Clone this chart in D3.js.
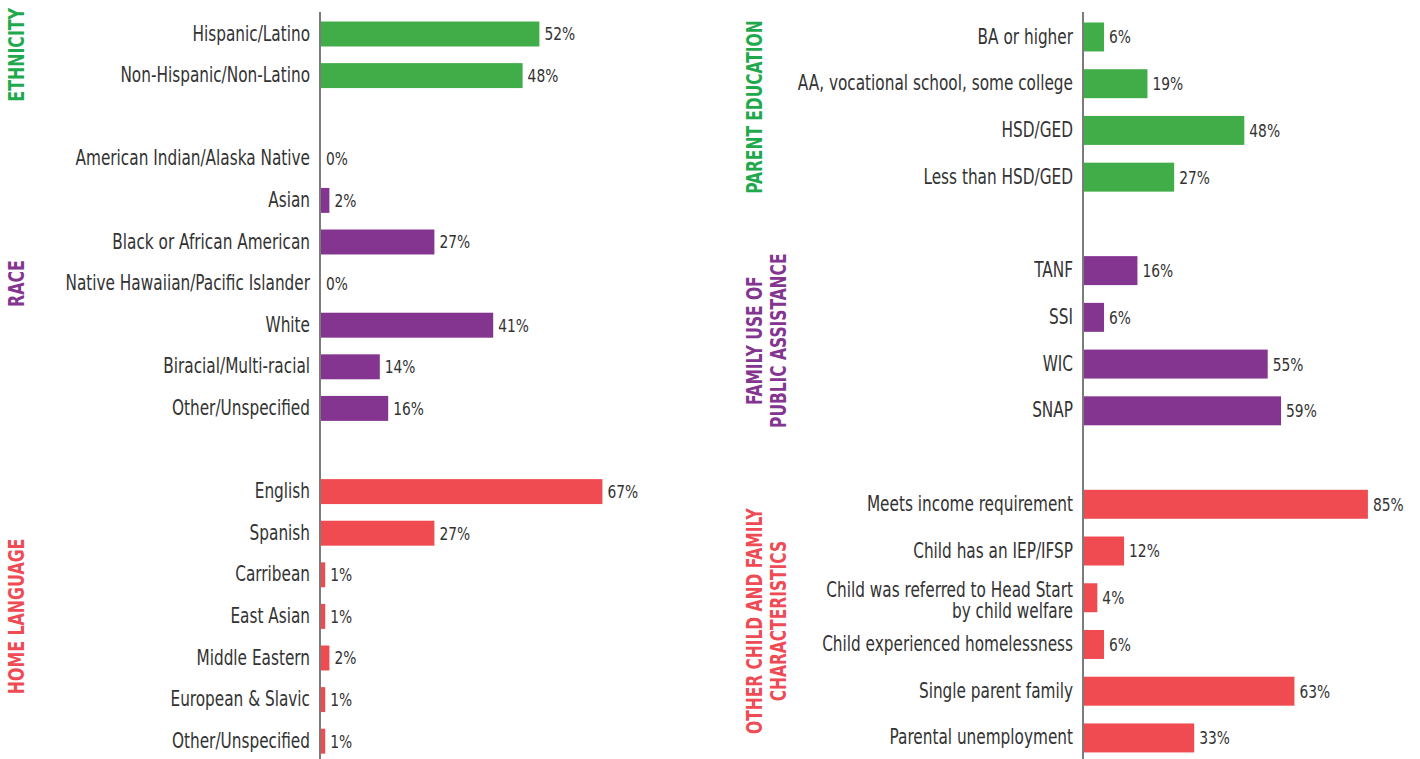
<!DOCTYPE html>
<html>
<head>
<meta charset="utf-8">
<script src="https://cdn.jsdelivr.net/npm/d3@7"></script>
<style>
  html, body { margin: 0; padding: 0; background: #fff; }
  svg { display: block; }
  .lbl { font-family: "DejaVu Sans Condensed", "DejaVu Sans", sans-serif; fill: #333; }
  .ttl { font-family: "DejaVu Sans Condensed", "DejaVu Sans", sans-serif; font-weight: bold; }
</style>
</head>
<body>
<svg id="chart" width="1420" height="759"></svg>
<script>
// left panel
var ethnicityLabels = ['Hispanic/Latino', 'Non-Hispanic/Non-Latino'];
var ethnicityValues = [52, 48];
var raceLabels = ['American Indian/Alaska Native', 'Asian', 'Black or African American',
    'Native Hawaiian/Pacific Islander', 'White', 'Biracial/Multi-racial', 'Other/Unspecified'];
var raceValues = [0, 2, 27, 0, 41, 14, 16];
var languageLabels = ['English', 'Spanish', 'Carribean', 'East Asian', 'Middle Eastern',
    'European & Slavic', 'Other/Unspecified'];
var languageValues = [67, 27, 1, 1, 2, 1, 1];

// right panel
var educationLabels = ['BA or higher', 'AA, vocational school, some college', 'HSD/GED', 'Less than HSD/GED'];
var educationValues = [6, 19, 48, 27];
var assistanceLabels = ['TANF', 'SSI', 'WIC', 'SNAP'];
var assistanceValues = [16, 6, 55, 59];
var otherLabels = ['Meets income requirement', 'Child has an IEP/IFSP',
    'Child was referred to Head Start\nby child welfare', 'Child experienced homelessness',
    'Single parent family', 'Parental unemployment'];
var otherValues = [85, 12, 4, 6, 63, 33];

var groupTitles = ['ETHNICITY', 'RACE', 'HOME LANGUAGE',
    'PARENT EDUCATION', 'FAMILY USE OF\nPUBLIC ASSISTANCE', 'OTHER CHILD AND FAMILY\nCHARACTERISTICS'];

var colors = { green: '#41ad49', purple: '#84358f', red: '#ef4b51' };
var titleColors = { green: '#1fa94d', purple: '#84358f', red: '#ef4b55' };

// the only condensed face here is wider than the original, squeeze it a bit
var SX = 0.83;

var svg = d3.select('#chart');

function buildRows(groups) {
    var rows = [];
    groups.forEach(function(g, gi) {
        if (gi > 0) {
            rows.push({ key: 'gap' + gi, gap: true });
        }
        g.labels.forEach(function(label, i) {
            rows.push({ key: gi + ':' + label, label: label, value: g.values[i], color: g.color, group: gi });
        });
    });
    return rows;
}

function drawPanel(opts) {
    var rows = buildRows(opts.groups);
    var panel = svg.append('g').attr('transform', 'translate(' + opts.axisX + ',0)');

    var y = d3.scaleBand()
        .domain(rows.map(function(r) { return r.key; }))
        .range(opts.yRange)
        .paddingInner(opts.padding)
        .paddingOuter(opts.padding / 2);

    var x = d3.scaleLinear().domain([0, 100]).range([0, opts.width]);

    var labelOf = {};
    rows.forEach(function(r) { labelOf[r.key] = r.gap ? '' : r.label; });

    var axis = panel.append('g')
        .call(d3.axisLeft(y).tickSize(0).tickSizeOuter(0).tickPadding(10)
            .tickFormat(function(k) { return labelOf[k]; }));

    axis.select('.domain')
        .attr('stroke', '#444')
        .attr('stroke-width', 1.4)
        .attr('d', 'M0,12V759');

    axis.selectAll('.tick text')
        .attr('class', 'lbl')
        .attr('font-size', 20.5)
        .attr('x', -10 / SX)
        .attr('transform', 'scale(' + SX + ',1)')
        .each(function(k) {
            var lines = labelOf[k].split('\n');
            if (lines.length > 1) {
                var t = d3.select(this).text('').attr('dy', null);
                lines.forEach(function(line, i) {
                    t.append('tspan')
                        .attr('x', -10 / SX)
                        .attr('dy', i === 0 ? '-0.05em' : '1.03em')
                        .text(line);
                });
            }
        });

    var data = rows.filter(function(r) { return !r.gap; });

    panel.selectAll('rect.bar')
        .data(data)
        .enter().append('rect')
        .attr('class', 'bar')
        .attr('x', 1)
        .attr('y', function(d) { return y(d.key); })
        .attr('width', function(d) { return x(d.value); })
        .attr('height', y.bandwidth())
        .attr('fill', function(d) { return colors[d.color]; });

    panel.selectAll('text.val')
        .data(data)
        .enter().append('text')
        .attr('class', 'val lbl')
        .attr('font-size', 18.5)
        .attr('transform', 'scale(' + SX + ',1)')
        .attr('x', function(d) { return (x(d.value) + 6) / SX; })
        .attr('y', function(d) { return y(d.key) + y.bandwidth() / 2; })
        .attr('dy', '0.35em')
        .text(function(d) { return d.value + '%'; });

    // vertical group titles
    opts.groups.forEach(function(g, gi) {
        var keys = rows.filter(function(r) { return r.group === gi; });
        var top = y(keys[0].key);
        var bottom = y(keys[keys.length - 1].key) + y.bandwidth();
        var cy = (top + bottom) / 2;
        var lines = g.title.split('\n');
        var t = svg.append('text')
            .attr('class', 'ttl')
            .attr('font-size', opts.titleSize)
            .attr('fill', titleColors[g.color])
            .attr('text-anchor', 'middle')
            .attr('transform', 'translate(' + opts.titleX + ',' + cy + ') rotate(-90) scale(' + opts.titleScale + ',1)');
        lines.forEach(function(line, i) {
            t.append('tspan')
                .attr('x', 0)
                .attr('y', i * 24)
                .attr('dy', '0.36em')
                .text(line);
        });
    });
}

drawPanel({
    axisX: 320,
    width: 420,
    yRange: [13.2, 762],
    padding: 0.4,
    titleX: 16,
    titleSize: 22,
    titleScale: 0.8,
    groups: [
        { title: groupTitles[0], labels: ethnicityLabels, values: ethnicityValues, color: 'green' },
        { title: groupTitles[1], labels: raceLabels, values: raceValues, color: 'purple' },
        { title: groupTitles[2], labels: languageLabels, values: languageValues, color: 'red' }
    ]
});

drawPanel({
    axisX: 1083,
    width: 334,
    yRange: [13.6, 761.3],
    padding: 0.38,
    titleX: 754,
    titleSize: 21.5,
    titleScale: 0.8,
    groups: [
        { title: groupTitles[3], labels: educationLabels, values: educationValues, color: 'green' },
        { title: groupTitles[4], labels: assistanceLabels, values: assistanceValues, color: 'purple' },
        { title: groupTitles[5], labels: otherLabels, values: otherValues, color: 'red' }
    ]
});
</script>
</body>
</html>
